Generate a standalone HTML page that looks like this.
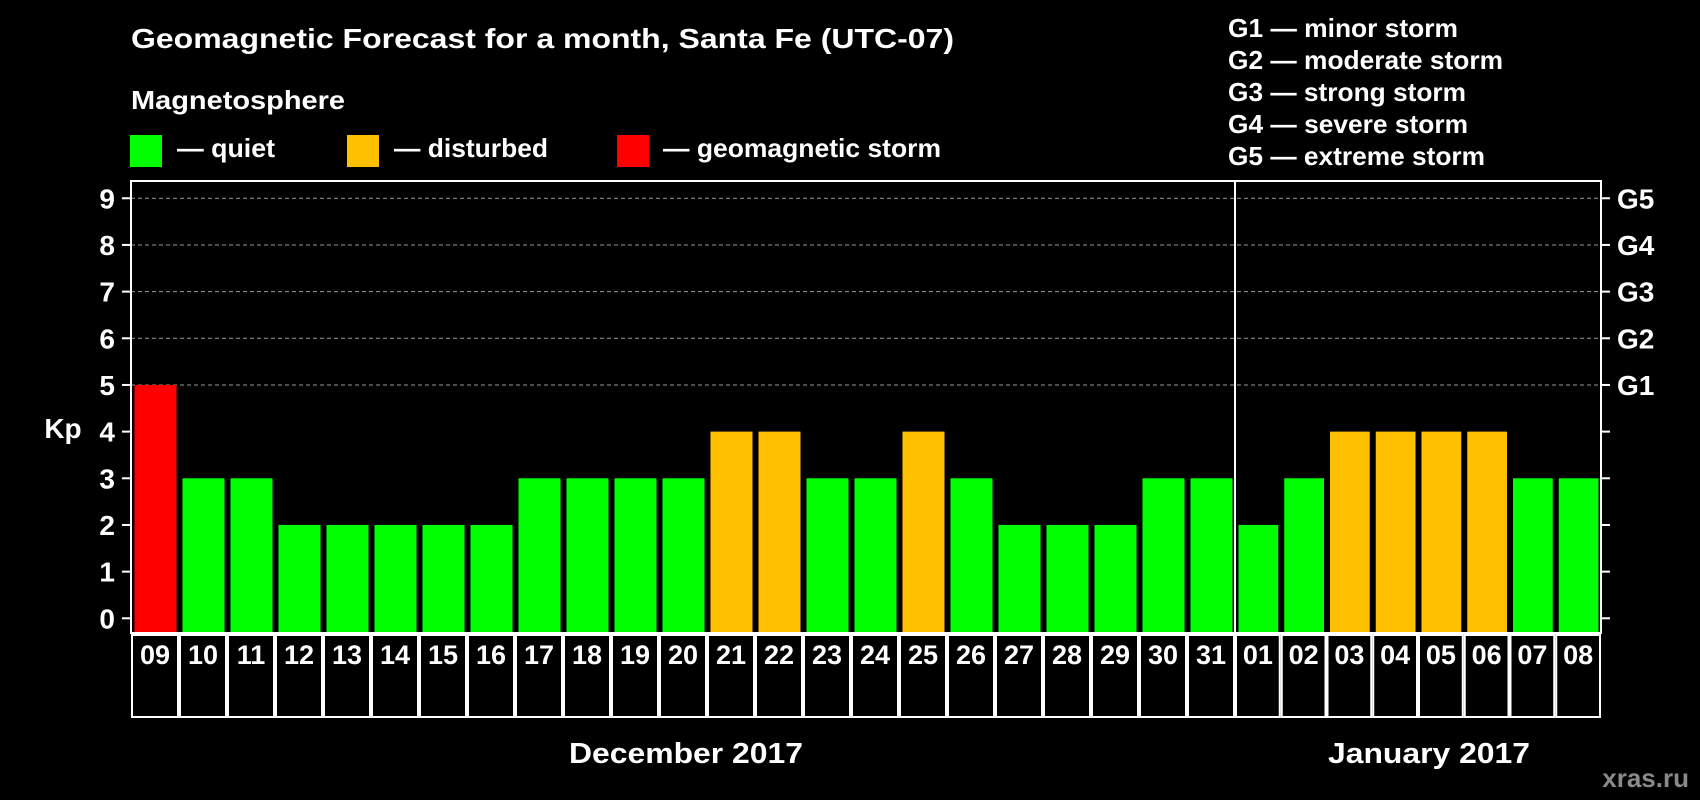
<!DOCTYPE html>
<html><head><meta charset="utf-8"><style>
html,body{margin:0;padding:0;background:#000;}
svg{display:block;font-family:"Liberation Sans",Arial,sans-serif;font-weight:bold;}
</style></head><body>
<svg id="c" width="1700" height="800" viewBox="0 0 1700 800">
<text x="131" y="48" fill="#fff" font-size="28" textLength="823" lengthAdjust="spacingAndGlyphs">Geomagnetic Forecast for a month, Santa Fe (UTC-07)</text>
<text x="131" y="109" fill="#fff" font-size="26" textLength="214" lengthAdjust="spacingAndGlyphs">Magnetosphere</text>
<rect x="130" y="135" width="32" height="32" fill="#00ff00"/>
<text x="177" y="157" fill="#fff" font-size="26" textLength="98" lengthAdjust="spacingAndGlyphs">— quiet</text>
<rect x="347" y="135" width="32" height="32" fill="#ffc000"/>
<text x="394" y="157" fill="#fff" font-size="26" textLength="154" lengthAdjust="spacingAndGlyphs">— disturbed</text>
<rect x="617" y="135" width="32" height="32" fill="#ff0000"/>
<text x="663" y="157" fill="#fff" font-size="26" textLength="278" lengthAdjust="spacingAndGlyphs">— geomagnetic storm</text>
<g fill="#fff" font-size="26">
<text x="1228" y="37" textLength="230" lengthAdjust="spacingAndGlyphs">G1 — minor storm</text>
<text x="1228" y="69" textLength="275" lengthAdjust="spacingAndGlyphs">G2 — moderate storm</text>
<text x="1228" y="101" textLength="238" lengthAdjust="spacingAndGlyphs">G3 — strong storm</text>
<text x="1228" y="133" textLength="240" lengthAdjust="spacingAndGlyphs">G4 — severe storm</text>
<text x="1228" y="165" textLength="257" lengthAdjust="spacingAndGlyphs">G5 — extreme storm</text>
</g>
<text x="63" y="438" fill="#fff" font-size="28" text-anchor="middle">Kp</text>
<g id="grid"></g><g id="bars"></g><g id="axes"></g>
<text x="686" y="763" fill="#fff" font-size="29" text-anchor="middle" textLength="234" lengthAdjust="spacingAndGlyphs">December 2017</text>
<text x="1429" y="763" fill="#fff" font-size="29" text-anchor="middle" textLength="202" lengthAdjust="spacingAndGlyphs">January 2017</text>
<text x="1689" y="787" fill="#8a8a8a" font-size="26" text-anchor="end">xras.ru</text>
</svg>
<script>
const days = ["09","10","11","12","13","14","15","16","17","18","19","20","21","22","23","24","25","26","27","28","29","30","31","01","02","03","04","05","06","07","08"];
const kp = [5,3,3,2,2,2,2,2,3,3,3,3,4,4,3,3,4,3,2,2,2,3,3,2,3,4,4,4,4,3,3];
const yTicks = [0,1,2,3,4,5,6,7,8,9];
const gLabels = ["G1","G2","G3","G4","G5"];
const decCount = 23;
const NS="http://www.w3.org/2000/svg";
const L=131,R=1601,T=181,B=633,DIV=1235,y0=618.3,unit=46.67;
function y(v){return y0-v*unit;}
function cellX(i){ if(i<decCount){const p=(DIV-L)/decCount;return [L+i*p,p];} const p=(R-DIV)/(days.length-decCount);return [DIV+(i-decCount)*p,p];}
function mk(tag,attrs,parent){const e=document.createElementNS(NS,tag);for(const k in attrs)e.setAttribute(k,attrs[k]);parent.appendChild(e);return e;}
const grid=document.getElementById('grid'),bars=document.getElementById('bars'),axes=document.getElementById('axes');
yTicks.forEach(v=>{
  if(v>=5){const g=mk('line',{x1:L,x2:R,y1:y(v),y2:y(v),stroke:'#9a9a9a','stroke-width':1,'stroke-dasharray':'4,3'},grid);
  
  }
  const t=mk('line',{x1:122,x2:L,y1:y(v),y2:y(v),stroke:'#fff','stroke-width':2},axes);
  
  
  const t2=mk('line',{x1:R,x2:1610,y1:y(v),y2:y(v),stroke:'#fff','stroke-width':2},axes);
  
  
  const lb=mk('text',{x:115,y:y(v)+10,fill:'#fff','font-size':28,'text-anchor':'end'},axes);lb.textContent=v;
  
  
});
gLabels.forEach((g,i)=>{
  const lb=mk('text',{x:1617,y:y(5+i)+10,fill:'#fff','font-size':28},axes);lb.textContent=g;
  
  
});
days.forEach((d,i)=>{
  const [cx,p]=cellX(i);const w=p-6;const v=kp[i];
  const col=v>=5?'#ff0000':(v>=4?'#ffc000':'#00ff00');
  const r=mk('rect',{x:cx+3.5,y:y(v),width:w,height:B-y(v),fill:col},bars);
  
  
  const c=mk('rect',{x:cx+1,y:B+2,width:p-2,height:82,fill:'none',stroke:'#fff','stroke-width':2},axes);
  
  
  const tx=mk('text',{x:cx+p/2,y:B+31,fill:'#fff','font-size':27,'text-anchor':'middle'},axes);tx.textContent=d;
  
  
});
const fr=mk('rect',{x:L,y:T,width:R-L,height:B-T,fill:'none',stroke:'#fff','stroke-width':2},axes);


const dv=mk('line',{x1:DIV,x2:DIV,y1:T,y2:B,stroke:'#fff','stroke-width':2},axes);


</script>
</body></html>
